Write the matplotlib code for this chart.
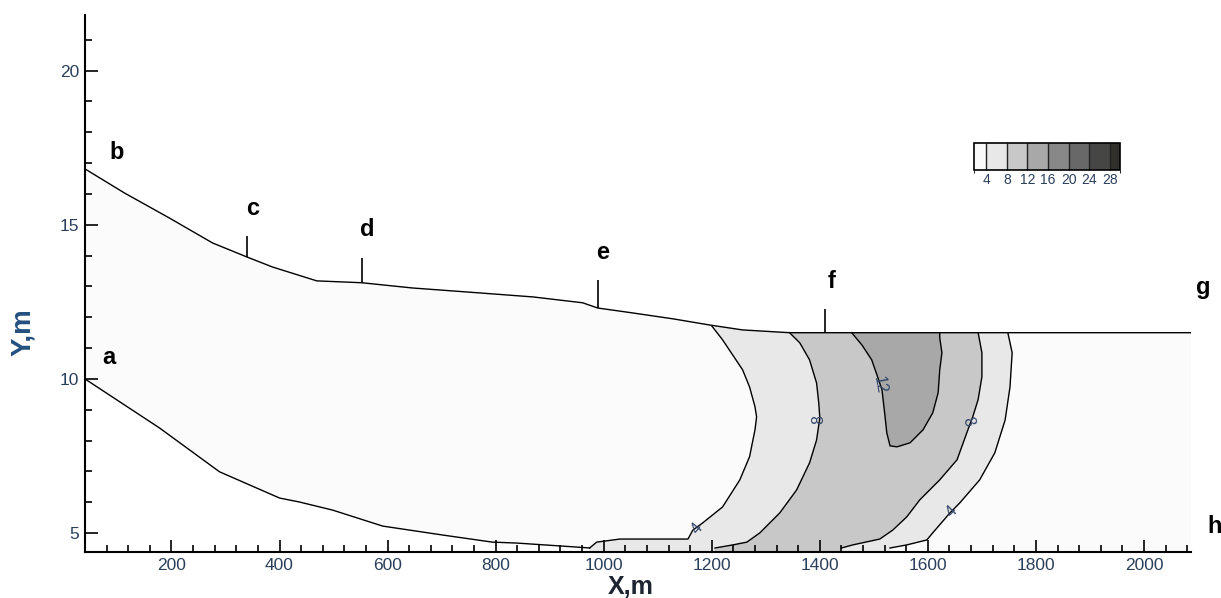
import matplotlib
matplotlib.use("Agg")
import matplotlib.pyplot as plt
from matplotlib.ticker import MultipleLocator
from matplotlib.colors import ListedColormap, BoundaryNorm
from matplotlib.cm import ScalarMappable

# upper boundary of the domain (b - c - d - e - f - g)
top_x = [40, 113, 196, 276, 339, 387, 469, 552, 646, 770, 869, 961, 989,
         1054, 1128, 1196, 1257, 1344, 2087]
top_y = [16.81, 16.03, 15.22, 14.41, 13.96, 13.63, 13.18, 13.12, 12.95,
         12.79, 12.66, 12.47, 12.30, 12.14, 11.95, 11.75, 11.59, 11.5, 11.5]

# lower boundary starting at a
bot_x = [40, 178, 289, 400, 437, 498, 591, 702, 794, 839, 950, 974]
bot_y = [10.0, 8.41, 6.99, 6.14, 6.01, 5.75, 5.23, 4.94, 4.71, 4.68, 4.55, 4.52]

# contour lines (top -> bottom)
c4l_x = [1200, 1220, 1257, 1270, 1280, 1283, 1280, 1270, 1252, 1220, 1183,
         1165, 1156, 1030, 987, 974]
c4l_y = [11.72, 11.27, 10.30, 9.74, 9.10, 8.77, 8.35, 7.48, 6.73, 5.85, 5.33,
         5.10, 4.81, 4.81, 4.71, 4.52]
c8l_x = [1344, 1363, 1381, 1394, 1398, 1400, 1394, 1381, 1357, 1326, 1289,
         1265, 1239, 1206]
c8l_y = [11.5, 11.17, 10.62, 9.87, 9.23, 8.74, 8.02, 7.28, 6.40, 5.66, 5.01,
         4.71, 4.62, 4.52]
c12_x = [1459, 1478, 1496, 1507, 1515, 1520, 1524, 1530, 1543, 1567, 1591,
         1609, 1619, 1622, 1626, 1622, 1622]
c12_y = [11.5, 11.10, 10.62, 10.07, 9.65, 8.90, 8.25, 7.83, 7.80, 7.93, 8.35,
         8.90, 9.55, 10.30, 10.85, 11.33, 11.5]
c8r_x = [1693, 1700, 1700, 1693, 1683, 1672, 1654, 1622, 1585, 1561, 1535,
         1511, 1461, 1440]
c8r_y = [11.5, 10.85, 10.07, 9.33, 8.77, 8.25, 7.38, 6.73, 6.08, 5.53, 5.10,
         4.81, 4.62, 4.52]
c4r_x = [1748, 1756, 1752, 1743, 1724, 1696, 1659, 1641, 1609, 1598, 1561, 1530]
c4r_y = [11.5, 10.85, 9.74, 8.67, 7.61, 6.73, 5.98, 5.66, 5.01, 4.78, 4.62, 4.52]

# inline contour labels
clab_text = ["4", "8", "12", "8", "4"]
clab_x = [1172, 1398, 1511, 1674, 1644]
clab_y = [5.15, 8.70, 9.80, 8.60, 5.70]
clab_rot = [50, 90, -80, -70, 45]

# point labels
pt_text = ["a", "b", "c", "d", "e", "f", "g", "h"]
pt_x = [85, 98, 350, 563, 998, 1422, 2109, 2131]
pt_y = [10.68, 17.33, 15.54, 14.86, 14.09, 13.17, 12.95, 5.21]

# small marks above the upper boundary
mark_x = [339, 552, 989, 1409]
mark_y0 = [13.96, 13.12, 12.30, 11.5]
mark_y1 = [14.62, 13.93, 13.21, 12.27]

# legend
levels = [4, 8, 12, 16, 20, 24, 28]
bounds = [1.6, 4, 8, 12, 16, 20, 24, 28, 30]
shades = ["#fafafa", "#e8e8e8", "#c8c8c8", "#a8a8a8", "#888888", "#686868",
          "#464644", "#302f2b"]

XMIN, XMAX = 40, 2087
YMIN, YMAX = 4.39, 21.8

fig = plt.figure(figsize=(12.21, 5.98), dpi=100)
ax = fig.add_axes([85 / 1221, 1 - 552 / 598, 1106 / 1221, 537 / 598])


def band(lx, ly, rx, ry):
    # left line down, along the bottom, right line up
    px = lx + [lx[-1], rx[-1]] + rx[::-1]
    py = ly + [YMIN, YMIN] + ry[::-1]
    # walk back along the upper boundary
    for x, y in zip(top_x[::-1], top_y[::-1]):
        if lx[0] < x < rx[0]:
            px.append(x)
            py.append(y)
    return px, py


# domain
dom_x = top_x + [XMAX] + bot_x[::-1]
dom_y = top_y + [YMIN] + bot_y[::-1]
ax.fill(dom_x, dom_y, color="#fbfbfb", lw=0)

px, py = band(c4l_x, c4l_y, c4r_x, c4r_y)
ax.fill(px, py, color=shades[1], lw=0)
px, py = band(c8l_x, c8l_y, c8r_x, c8r_y)
ax.fill(px, py, color=shades[2], lw=0)
ax.fill(c12_x, c12_y, color=shades[3], lw=0)

for cx, cy in [(c4l_x, c4l_y), (c8l_x, c8l_y), (c12_x, c12_y),
               (c8r_x, c8r_y), (c4r_x, c4r_y)]:
    ax.plot(cx, cy, color="black", lw=1.0)

ax.plot(top_x, top_y, color="black", lw=1.0)
ax.plot(bot_x, bot_y, color="black", lw=1.0)
ax.vlines(mark_x, mark_y0, mark_y1, color="black", lw=1.2)

for t, x, y, r in zip(clab_text, clab_x, clab_y, clab_rot):
    ax.text(x, y, t, rotation=r, ha="center", va="center", fontsize=11.5,
            color="#34466a", family="Liberation Sans")

for t, x, y in zip(pt_text, pt_x, pt_y):
    ax.text(x, y, t, ha="center", va="center", fontsize=17,
            fontweight="bold", family="Liberation Sans", clip_on=False)

ax.set_xlim(XMIN, XMAX)
ax.set_ylim(YMIN, YMAX)
ax.spines["top"].set_visible(False)
ax.spines["right"].set_visible(False)
ax.spines["left"].set_linewidth(1.5)
ax.spines["bottom"].set_linewidth(1.5)
ax.set_facecolor("white")

ax.xaxis.set_major_locator(MultipleLocator(200))
ax.xaxis.set_minor_locator(MultipleLocator(40))
ax.yaxis.set_major_locator(MultipleLocator(5))
ax.yaxis.set_minor_locator(MultipleLocator(1))
ax.tick_params(which="major", direction="in", length=9, width=1.2,
               labelsize=12.5, labelcolor="#2b3f5c", pad=4)
ax.tick_params(which="minor", direction="in", length=5, width=1.2)
for lab in ax.get_xticklabels() + ax.get_yticklabels():
    lab.set_family("Liberation Sans")

ax.set_xlabel("X,m", fontsize=18, fontweight="bold", color="#1c2430",
              family="Liberation Sans")
ax.set_ylabel("Y,m", fontsize=20, fontweight="bold", color="#23507e",
              family="Liberation Sans")
ax.xaxis.set_label_coords(0.493, -0.042)
ax.yaxis.set_label_coords(-0.044, 0.41)

# legend bar
cax = fig.add_axes([974 / 1221, 1 - 170 / 598, 146 / 1221, 27 / 598])
sm = ScalarMappable(norm=BoundaryNorm(bounds, len(shades)),
                    cmap=ListedColormap(shades))
cb = fig.colorbar(sm, cax=cax, orientation="horizontal",
                  spacing="proportional", ticks=levels, drawedges=True)
cb.outline.set_linewidth(1.2)
cb.dividers.set_color("#222222")
cb.dividers.set_linewidth(1.0)
cb.ax.tick_params(length=0, labelsize=10, pad=2, labelcolor="#2b3f5c")
for lab in cb.ax.get_xticklabels():
    lab.set_family("Liberation Sans")

fig.savefig("out.png", dpi=100)
